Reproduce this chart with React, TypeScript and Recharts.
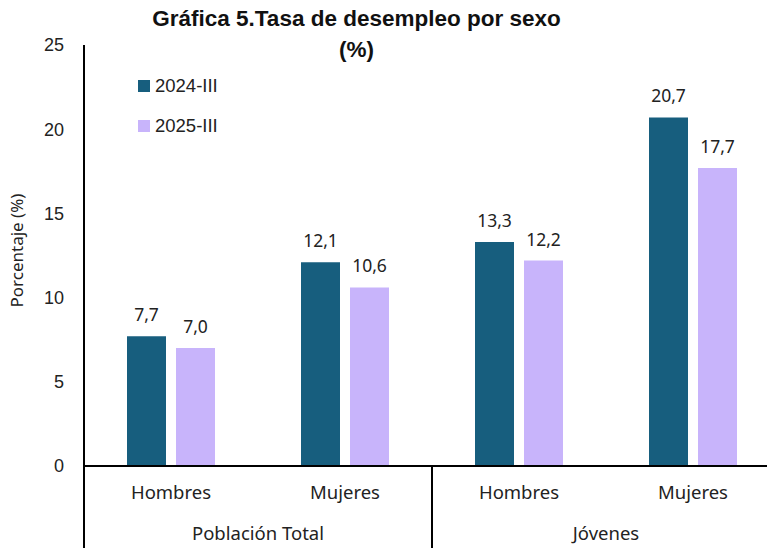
import { BarChart, Bar, XAxis, YAxis, LabelList } from 'recharts';

const categories = ['Hombres', 'Mujeres', 'Hombres', 'Mujeres'];
const groups = ['Población Total', 'Jóvenes'];
const serie2024 = [7.7, 12.1, 13.3, 20.7];
const serie2025 = [7.0, 10.6, 12.2, 17.7];
const yTicks = [0, 5, 10, 15, 20, 25];

const C2024 = '#175e7e';
const C2025 = '#c8b4fb';
const labelFont = '"Noto Sans", sans-serif';
const numFont = '"Liberation Sans", Arial, sans-serif';

const data = categories.map((cat, i) => ({
  key: `${cat}-${i}`,
  cat,
  group: groups[Math.floor(i / 2)],
  v2024: serie2024[i],
  v2025: serie2025[i],
}));

const fmt = (v: number) => v.toFixed(1).replace('.', ',');

function CategoryTick(props: any) {
  const { x, y, payload, width } = props;
  const idx = payload.index as number;
  const band = width / data.length;
  const row = data[idx];
  const left = x - band / 2;
  return (
    <g>
      <text x={x} y={y + 33} textAnchor="middle" fontFamily={labelFont} fontSize={18.5} fill="#222">
        {row.cat}
      </text>
      {idx % 2 === 0 && (
        <>
          <line x1={left} y1={y} x2={left} y2={y + 90} stroke="#000" strokeWidth={2} />
          <text x={x + band / 2} y={y + 74} textAnchor="middle" fontFamily={labelFont} fontSize={18.5} fill="#222">
            {row.group}
          </text>
        </>
      )}
    </g>
  );
}

export default function App() {
  return (
    <div style={{ position: 'absolute', left: 0, top: 0, width: 767, height: 548, overflow: 'hidden', background: '#fff' }}>
      <div
        style={{
          position: 'absolute',
          left: 0,
          width: 713,
          top: 3,
          textAlign: 'center',
          fontFamily: numFont,
          fontWeight: 'bold',
          fontSize: 22.5,
          lineHeight: '31px',
          color: '#111',
        }}
      >
        Gráfica 5.Tasa de desempleo por sexo
        <br />
        (%)
      </div>
      <div style={{ position: 'absolute', left: 138, top: 75, fontFamily: numFont, fontSize: 18.5, color: '#222' }}>
        {[
          ['2024-III', C2024],
          ['2025-III', C2025],
        ].map(([name, color], i) => (
          <div key={name} style={{ display: 'flex', alignItems: 'center', height: 22, marginBottom: i === 0 ? 18 : 0 }}>
            <span style={{ width: 12, height: 12, background: color, display: 'inline-block', marginRight: 5 }} />
            {name}
          </div>
        ))}
      </div>
      <BarChart
        width={790}
        height={548}
        data={data}
        margin={{ top: 45, right: 10, left: 0, bottom: 0 }}
        barGap={10}
        style={{ position: 'absolute', left: 0, top: 0 }}
      >
        <XAxis
          dataKey="key"
          height={82}
          axisLine={{ stroke: '#000', strokeWidth: 2 }}
          tickLine={false}
          tickSize={0}
          tickMargin={0}
          tick={<CategoryTick />}
          interval={0}
        />
        <YAxis
          width={84}
          domain={[0, 25]}
          ticks={yTicks}
          axisLine={{ stroke: '#000', strokeWidth: 2 }}
          tickLine={false}
          tickSize={0}
          tickMargin={20}
          tick={{ fontFamily: numFont, fontSize: 18, fill: '#222' }}
          label={{
            value: 'Porcentaje (%)',
            angle: -90,
            position: 'insideLeft',
            dx: 12,
            dy: -5,
            style: { fontFamily: labelFont, fontSize: 17, fill: '#222', textAnchor: 'middle' },
          }}
        />
        <Bar dataKey="v2024" name="2024-III" fill={C2024} barSize={39} isAnimationActive={false}>
          <LabelList dataKey="v2024" position="top" offset={15} formatter={(v: any) => fmt(Number(v))} style={{ fontFamily: labelFont, fontSize: 17.5, fill: '#222' }} />
        </Bar>
        <Bar dataKey="v2025" name="2025-III" fill={C2025} barSize={39} isAnimationActive={false}>
          <LabelList dataKey="v2025" position="top" offset={15} formatter={(v: any) => fmt(Number(v))} style={{ fontFamily: labelFont, fontSize: 17.5, fill: '#222' }} />
        </Bar>
      </BarChart>
    </div>
  );
}
